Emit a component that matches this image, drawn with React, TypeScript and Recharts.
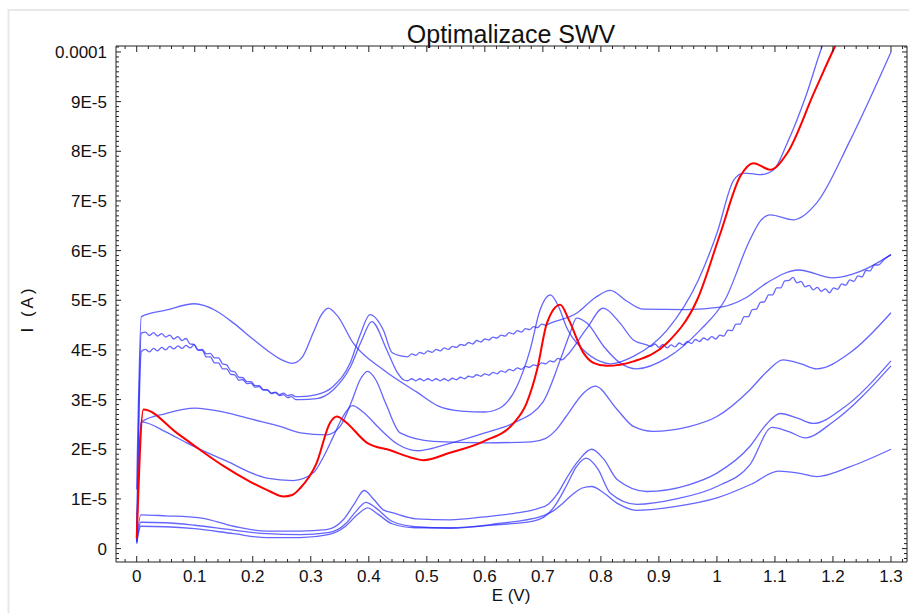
import React from 'react';
import { LineChart, Line, XAxis, YAxis } from 'recharts';

const CHART_W = 909;
const CHART_H = 613;

// Potential E (V) and current I (in units of 1E-5 A) for each scan
const scanA_E = [0, 0.008, 0.05, 0.1, 0.135, 0.167, 0.2, 0.224, 0.25, 0.268, 0.285, 0.304, 0.318, 0.33, 0.345, 0.373, 0.425, 0.483, 0.52, 0.56, 0.6, 0.626, 0.655, 0.678, 0.695, 0.713, 0.728, 0.741, 0.77, 0.799, 0.816, 0.856, 0.914, 0.968, 1.0, 1.029, 1.046, 1.06, 1.075, 1.098, 1.121, 1.155, 1.181, 1.195];
const scanA_I = [1.19, 4.67, 4.8, 4.93, 4.8, 4.54, 4.22, 4.0, 3.8, 3.73, 3.85, 4.34, 4.7, 4.84, 4.7, 4.14, 3.6, 3.15, 2.87, 2.77, 2.75, 2.83, 3.26, 4.0, 4.8, 5.11, 4.85, 4.45, 4.0, 3.77, 3.72, 3.87, 4.4, 5.41, 6.35, 7.42, 7.56, 7.55, 7.53, 7.63, 8.16, 9.17, 10.1, 10.5];

const scanB1_E = [0, 0.007, 0.05, 0.109, 0.167, 0.224, 0.282, 0.327, 0.356, 0.375, 0.392, 0.408, 0.425, 0.442, 0.482, 0.54, 0.6, 0.655, 0.69, 0.71, 0.725, 0.74, 0.76, 0.784, 0.805, 0.828, 0.879, 0.95, 1.0, 1.057, 1.085, 1.109, 1.14, 1.166, 1.22, 1.3];
const scanB1_I = [0.15, 0.68, 0.66, 0.62, 0.45, 0.35, 0.35, 0.38, 0.58, 0.9, 1.17, 1.0, 0.78, 0.72, 0.6, 0.58, 0.64, 0.72, 0.8, 0.9, 1.1, 1.4, 1.75, 2.0, 1.8, 1.39, 1.15, 1.28, 1.52, 2.06, 2.5, 2.72, 2.62, 2.52, 2.85, 3.78];

const scanB2_E = [0, 0.007, 0.05, 0.1, 0.167, 0.224, 0.282, 0.33, 0.36, 0.38, 0.398, 0.415, 0.44, 0.48, 0.54, 0.62, 0.685, 0.705, 0.72, 0.74, 0.758, 0.775, 0.795, 0.816, 0.862, 0.93, 1.0, 1.057, 1.095, 1.125, 1.152, 1.2, 1.3];
const scanB2_I = [0.12, 0.45, 0.44, 0.4, 0.3, 0.22, 0.22, 0.28, 0.45, 0.68, 0.82, 0.7, 0.5, 0.42, 0.42, 0.48, 0.56, 0.66, 0.85, 1.25, 1.65, 1.82, 1.6, 1.12, 0.89, 1.0, 1.25, 1.69, 2.44, 2.35, 2.23, 2.55, 3.68];

const scanB3_E = [0, 0.007, 0.05, 0.1, 0.167, 0.224, 0.282, 0.33, 0.36, 0.378, 0.395, 0.412, 0.44, 0.48, 0.54, 0.62, 0.7, 0.718, 0.735, 0.752, 0.768, 0.784, 0.805, 0.83, 0.862, 0.93, 1.0, 1.06, 1.106, 1.14, 1.172, 1.23, 1.3];
const scanB3_I = [0.1, 0.53, 0.52, 0.47, 0.37, 0.3, 0.28, 0.32, 0.5, 0.75, 0.93, 0.82, 0.55, 0.44, 0.41, 0.5, 0.66, 0.76, 0.92, 1.1, 1.22, 1.25, 1.12, 0.9, 0.77, 0.85, 1.02, 1.3, 1.56, 1.52, 1.45, 1.65, 2.0];

const scanC1_E = [0, 0.008, 0.05, 0.1, 0.15, 0.2, 0.25, 0.282, 0.327, 0.35, 0.37, 0.385, 0.398, 0.412, 0.43, 0.454, 0.511, 0.6, 0.68, 0.705, 0.722, 0.74, 0.77, 0.79, 0.828, 0.856, 0.89, 0.95, 1.0, 1.057, 1.085, 1.114, 1.145, 1.172, 1.23, 1.3];
const scanC1_I = [0.15, 2.55, 2.72, 2.83, 2.75, 2.6, 2.45, 2.33, 2.29, 2.45, 2.95, 3.4, 3.57, 3.4, 2.9, 2.33, 2.16, 2.13, 2.15, 2.22, 2.38, 2.66, 3.13, 3.27, 2.8, 2.46, 2.36, 2.45, 2.66, 3.2, 3.55, 3.8, 3.72, 3.62, 3.95, 4.75];

const scanC2_E = [0, 0.008, 0.05, 0.086, 0.155, 0.224, 0.27, 0.304, 0.322, 0.339, 0.355, 0.372, 0.39, 0.42, 0.45, 0.485, 0.54, 0.6, 0.65, 0.7, 0.73, 0.747, 0.758, 0.776, 0.805, 0.833, 0.862, 0.914, 0.971, 1.014, 1.057, 1.075, 1.092, 1.132, 1.172, 1.23, 1.3];
const scanC2_I = [0.15, 2.55, 2.35, 2.13, 1.76, 1.42, 1.37, 1.52, 1.85, 2.26, 2.65, 2.88, 2.75, 2.4, 2.1, 1.97, 2.12, 2.33, 2.53, 2.95, 3.8, 4.34, 4.64, 4.54, 4.07, 3.74, 3.62, 3.84, 4.4, 5.01, 6.22, 6.6, 6.72, 6.62, 6.96, 8.23, 10.0];

// Two noisy (wiggly) scans, read point by point along their ripples
const scanW1_E = [0, 0.008,
  0.015, 0.022, 0.029, 0.036, 0.043, 0.05, 0.057, 0.064, 0.071, 0.078, 0.085, 0.092, 0.099, 0.106, 0.113, 0.12, 0.127, 0.134, 0.141, 0.148, 0.155, 0.162, 0.169, 0.176, 0.183, 0.19, 0.197, 0.204, 0.211, 0.218, 0.225, 0.232, 0.239, 0.246, 0.253, 0.26, 0.267, 0.274,
  0.282, 0.31, 0.339, 0.368, 0.385, 0.402, 0.425, 0.44, 0.46,
  0.467, 0.474, 0.481, 0.488, 0.495, 0.502, 0.509, 0.516, 0.523, 0.53, 0.537, 0.544, 0.551, 0.558, 0.565, 0.572, 0.579, 0.586, 0.593, 0.6, 0.607, 0.614, 0.621, 0.628, 0.635, 0.642, 0.649, 0.656, 0.663, 0.67, 0.677, 0.684, 0.691, 0.698, 0.705,
  0.713, 0.758, 0.79, 0.816, 0.845, 0.873, 0.948, 1.006, 1.05, 1.086, 1.141, 1.2, 1.247, 1.3];
const scanW1_I = [0.2, 4.34,
  4.36, 4.29, 4.35, 4.28, 4.33, 4.26, 4.3, 4.22, 4.27, 4.19, 4.23, 4.12, 4.11, 3.99, 3.99, 3.86, 3.86, 3.74, 3.74, 3.62, 3.62, 3.51, 3.5, 3.39, 3.4, 3.32, 3.33, 3.25, 3.26, 3.19, 3.19, 3.13, 3.15, 3.1, 3.13, 3.08, 3.1, 3.06,
  3.06, 3.1, 3.27, 3.74, 4.3, 4.71, 4.4, 3.95, 3.87,
  3.86, 3.92, 3.89, 3.95, 3.92, 3.98, 3.95, 4.01, 3.98, 4.04, 4.01, 4.07, 4.05, 4.11, 4.09, 4.15, 4.12, 4.19, 4.16, 4.22, 4.2, 4.26, 4.24, 4.3, 4.28, 4.35, 4.32, 4.39, 4.36, 4.43, 4.41, 4.47, 4.45, 4.52, 4.5,
  4.54, 4.74, 5.05, 5.2, 4.98, 4.82, 4.81, 4.86, 5.05, 5.35, 5.61, 5.45, 5.58, 5.92];

const scanW2_E = [0, 0.008,
  0.015, 0.022, 0.029, 0.036, 0.043, 0.05, 0.057, 0.064, 0.071, 0.078, 0.085, 0.092, 0.099, 0.106, 0.113, 0.12, 0.127, 0.134, 0.141, 0.148, 0.155, 0.162, 0.169, 0.176, 0.183, 0.19, 0.197, 0.204, 0.211, 0.218, 0.225, 0.232, 0.239, 0.246, 0.253, 0.26, 0.267, 0.274,
  0.282, 0.31, 0.339, 0.368, 0.388, 0.405, 0.431, 0.448, 0.46,
  0.467, 0.474, 0.481, 0.488, 0.495, 0.502, 0.509, 0.516, 0.523, 0.53, 0.537, 0.544, 0.551, 0.558, 0.565, 0.572, 0.579, 0.586, 0.593, 0.6, 0.607, 0.614, 0.621, 0.628, 0.635, 0.642, 0.649, 0.656, 0.663, 0.67, 0.677, 0.684, 0.691, 0.698, 0.705, 0.712, 0.719, 0.726, 0.733, 0.74,
  0.776, 0.804, 0.833, 0.856, 0.879,
  0.886, 0.893, 0.9, 0.907, 0.914, 0.921, 0.928, 0.935, 0.942, 0.949, 0.956, 0.963, 0.97, 0.977, 0.984, 0.991, 0.998, 1.005, 1.012, 1.019, 1.026, 1.033, 1.04, 1.047, 1.054, 1.061, 1.068, 1.075, 1.082, 1.089, 1.096, 1.103, 1.11, 1.117, 1.124, 1.131, 1.138, 1.145, 1.152, 1.159, 1.166, 1.173, 1.18, 1.187, 1.194, 1.201, 1.208, 1.215, 1.222, 1.229, 1.236, 1.243, 1.25, 1.257, 1.264, 1.271, 1.278,
  1.289, 1.3];
const scanW2_I = [0.2, 3.97,
  4.01, 3.96, 4.03, 3.98, 4.05, 4.0, 4.07, 4.02, 4.08, 4.03, 4.09, 4.04, 4.1, 4.0, 4.01, 3.92, 3.93, 3.84, 3.84, 3.72, 3.7, 3.58, 3.56, 3.45, 3.44, 3.36, 3.36, 3.28, 3.28, 3.2, 3.2, 3.12, 3.14, 3.08, 3.1, 3.04, 3.06, 3.0,
  3.0, 3.02, 3.2, 3.65, 4.2, 4.57, 4.0, 3.57, 3.4,
  3.38, 3.42, 3.38, 3.42, 3.38, 3.42, 3.38, 3.42, 3.38, 3.42, 3.38, 3.43, 3.4, 3.45, 3.42, 3.47, 3.45, 3.5, 3.47, 3.52, 3.49, 3.55, 3.52, 3.58, 3.55, 3.61, 3.58, 3.64, 3.61, 3.67, 3.65, 3.7, 3.68, 3.74, 3.72, 3.78, 3.76, 3.83, 3.8, 3.87,
  4.44, 4.84, 4.54, 4.2, 4.1,
  4.07, 4.12, 4.05, 4.11, 4.04, 4.1, 4.06, 4.14, 4.1, 4.17, 4.13, 4.21, 4.17, 4.24, 4.2, 4.27, 4.22, 4.3, 4.28, 4.4, 4.39, 4.52, 4.52, 4.67, 4.67, 4.81, 4.82, 4.96, 4.97, 5.11, 5.11, 5.25, 5.25, 5.39, 5.4, 5.46, 5.35, 5.38, 5.27, 5.3, 5.21, 5.26, 5.18, 5.23, 5.15, 5.25, 5.22, 5.33, 5.3, 5.41, 5.38, 5.49, 5.47, 5.6, 5.59, 5.71, 5.71,
  5.83, 5.92];

const scanRed_E = [0, 0.0115, 0.069, 0.109, 0.15, 0.195, 0.23, 0.253, 0.268, 0.282, 0.31, 0.333, 0.345, 0.36, 0.397, 0.437, 0.477, 0.494, 0.54, 0.598, 0.65, 0.672, 0.69, 0.707, 0.73, 0.745, 0.77, 0.787, 0.81, 0.856, 0.914, 0.966, 1.006, 1.04, 1.063, 1.092, 1.121, 1.167, 1.203, 1.22];
const scanRed_I = [0.2, 2.8, 2.33, 1.99, 1.66, 1.35, 1.15, 1.05, 1.08, 1.22, 1.72, 2.53, 2.66, 2.55, 2.13, 1.98, 1.82, 1.78, 1.93, 2.16, 2.53, 2.93, 3.6, 4.54, 4.91, 4.6, 3.94, 3.74, 3.68, 3.77, 4.14, 5.01, 6.35, 7.49, 7.76, 7.63, 7.96, 9.17, 10.1, 10.5];

// Axis ticks
const xMajorTicks = [0, 0.1, 0.2, 0.3, 0.4, 0.5, 0.6, 0.7, 0.8, 0.9, 1, 1.1, 1.2, 1.3];
const xTickLabels = ['0', '0.1', '0.2', '0.3', '0.4', '0.5', '0.6', '0.7', '0.8', '0.9', '1', '1.1', '1.2', '1.3'];
const yMajorTicks = [0, 1, 2, 3, 4, 5, 6, 7, 8, 9, 10];
const yTickLabels = ['0', '1E-5', '2E-5', '3E-5', '4E-5', '5E-5', '6E-5', '7E-5', '8E-5', '9E-5', '0.0001'];

const xMinorTicks = Array.from({ length: 68 }, (_, i) => (i * 2 - 2) / 100);
const yMinorTicks = Array.from({ length: 104 }, (_, i) => (i - 2) / 10);

const X_DOMAIN: [number, number] = [-0.0357, 1.3276];
const Y_DOMAIN: [number, number] = [-0.27, 10.12];

const build = (E: number[], I: number[]) => E.map((e, i) => ({ E: e, I: I[i] }));

const blueSeries = [
  build(scanA_E, scanA_I),
  build(scanB1_E, scanB1_I),
  build(scanB2_E, scanB2_I),
  build(scanB3_E, scanB3_I),
  build(scanC1_E, scanC1_I),
  build(scanC2_E, scanC2_I),
  build(scanW1_E, scanW1_I),
  build(scanW2_E, scanW2_I),
];
const redSeries = build(scanRed_E, scanRed_I);

const AXIS_COLOR = '#222';
const FONT = '"Liberation Sans", Arial, sans-serif';

const labelFor = (v: number, majors: number[], labels: string[]) => {
  const idx = majors.findIndex((m) => Math.abs(m - v) < 1e-6);
  return idx >= 0 ? labels[idx] : null;
};

const makeTick = (side: 'bottom' | 'top' | 'left' | 'right') => (props: any) => {
  const { x, y, payload } = props;
  const v = payload.value as number;
  if (side === 'bottom' || side === 'top') {
    const lab = labelFor(v, xMajorTicks, xTickLabels);
    const len = lab !== null ? 6 : 3;
    const dir = side === 'bottom' ? -1 : 1;
    return (
      <g>
        <line x1={x} x2={x} y1={y} y2={y + dir * len} stroke={AXIS_COLOR} strokeWidth={1} />
        {side === 'bottom' && lab !== null && (
          <text x={x} y={y + 20} textAnchor="middle" fontSize={17} fontFamily={FONT} fill="#111">
            {lab}
          </text>
        )}
      </g>
    );
  }
  const lab = labelFor(v, yMajorTicks, yTickLabels);
  const len = lab !== null ? 5 : 3;
  const dir = side === 'left' ? 1 : -1;
  return (
    <g>
      <line x1={x} x2={x + dir * len} y1={y} y2={y} stroke={AXIS_COLOR} strokeWidth={1} />
      {side === 'left' && lab !== null && (
        <text x={x - 9} y={y} dy="0.36em" textAnchor="end" fontSize={17} fontFamily={FONT} fill="#111">
          {lab}
        </text>
      )}
    </g>
  );
};

export default function App() {
  return (
    <div style={{ position: 'absolute', left: 0, top: 0, width: CHART_W, height: CHART_H, background: '#fff' }}>
      <LineChart
        width={CHART_W}
        height={CHART_H}
        margin={{ top: 45, right: 1, bottom: 50, left: 115 }}
      >
        <XAxis
          xAxisId="bottom"
          type="number"
          dataKey="E"
          orientation="bottom"
          domain={X_DOMAIN}
          allowDataOverflow
          ticks={xMinorTicks}
          interval={0}
          height={1}
          tickSize={0}
          tickMargin={0}
          tick={makeTick('bottom')}
          axisLine={{ stroke: AXIS_COLOR }}
          tickLine={false}
        />
        <XAxis
          xAxisId="top"
          type="number"
          dataKey="E"
          orientation="top"
          domain={X_DOMAIN}
          allowDataOverflow
          ticks={xMinorTicks}
          interval={0}
          height={1}
          tickSize={0}
          tickMargin={0}
          tick={makeTick('top')}
          axisLine={{ stroke: AXIS_COLOR }}
          tickLine={false}
        />
        <YAxis
          yAxisId="left"
          type="number"
          orientation="left"
          domain={Y_DOMAIN}
          allowDataOverflow
          ticks={yMinorTicks}
          interval={0}
          width={1}
          tickSize={0}
          tickMargin={0}
          tick={makeTick('left')}
          axisLine={{ stroke: AXIS_COLOR }}
          tickLine={false}
        />
        <YAxis
          yAxisId="right"
          type="number"
          orientation="right"
          domain={Y_DOMAIN}
          allowDataOverflow
          ticks={yMinorTicks}
          interval={0}
          width={1}
          tickSize={0}
          tickMargin={0}
          tick={makeTick('right')}
          axisLine={{ stroke: AXIS_COLOR }}
          tickLine={false}
        />
        {blueSeries.map((d, i) => (
          <Line
            key={i}
            xAxisId="bottom"
            yAxisId="left"
            data={d}
            dataKey="I"
            type="monotone"
            stroke="#2a2aff"
            strokeOpacity={0.72}
            strokeWidth={1.3}
            dot={false}
            activeDot={false}
            isAnimationActive={false}
          />
        ))}
        <Line
          xAxisId="bottom"
          yAxisId="left"
          data={redSeries}
          dataKey="I"
          type="monotone"
          stroke="#ff0000"
          strokeWidth={2}
          dot={false}
          activeDot={false}
          isAnimationActive={false}
        />
      </LineChart>
      <svg
        width={CHART_W}
        height={CHART_H}
        style={{ position: 'absolute', left: 0, top: 0, pointerEvents: 'none' }}
      >
        <rect x={8.5} y={10} width={1000} height={1000} fill="none" stroke="#e8e8e8" strokeWidth={2} />
        <text x={511} y={43} textAnchor="middle" fontSize={25} fontFamily={FONT} fill="#111">
          Optimalizace SWV
        </text>
        <text x={511} y={601} textAnchor="middle" fontSize={17} fontFamily={FONT} fill="#111">
          E (V)
        </text>
        <text
          x={0}
          y={0}
          transform="translate(33,309) rotate(-90)"
          textAnchor="middle"
          fontSize={17}
          letterSpacing={3}
          fontFamily={FONT}
          fill="#111"
        >
          I (A)
        </text>
      </svg>
    </div>
  );
}
